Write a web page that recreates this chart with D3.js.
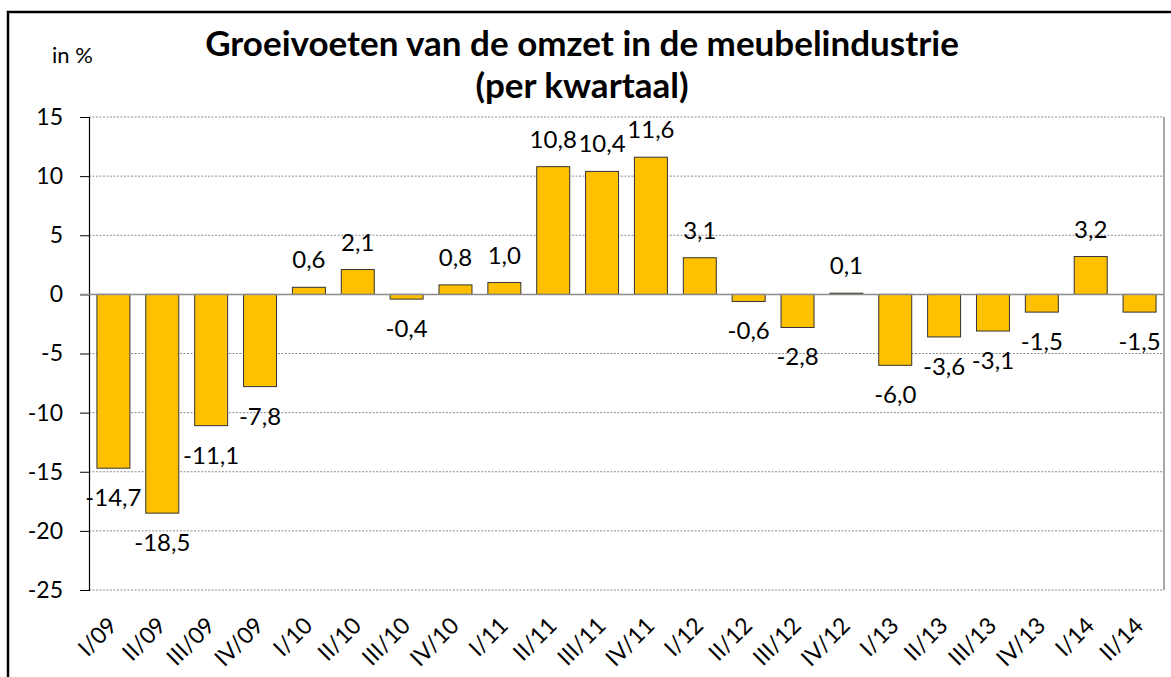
<!DOCTYPE html>
<html>
<head>
<meta charset="utf-8">
<script src="https://cdn.jsdelivr.net/npm/d3@7"></script>
<style>
  body { margin: 0; background: #fff; }
  text { font-family: Lato, "Open Sans", sans-serif; fill: #000; }
</style>
</head>
<body>
<svg id="chart" width="1171" height="677"></svg>
<script>
// quarters and growth rates (%)
const quarters = ['I/09', 'II/09', 'III/09', 'IV/09', 'I/10', 'II/10', 'III/10', 'IV/10',
  'I/11', 'II/11', 'III/11', 'IV/11', 'I/12', 'II/12', 'III/12', 'IV/12',
  'I/13', 'II/13', 'III/13', 'IV/13', 'I/14', 'II/14'];
const growth = [-14.7, -18.5, -11.1, -7.8, 0.6, 2.1, -0.4, 0.8,
  1.0, 10.8, 10.4, 11.6, 3.1, -0.6, -2.8, 0.1,
  -6.0, -3.6, -3.1, -1.5, 3.2, -1.5];
const yTicks = [-25, -20, -15, -10, -5, 0, 5, 10, 15];
const titleLines = ['Groeivoeten van de omzet in de meubelindustrie', '(per kwartaal)'];

const svg = d3.select('svg#chart');

// plot area
const plotLeft = 89, plotRight = 1164, plotTop = 117, plotBottom = 590;

// outer frame of the chart object
svg.append('rect')
  .attr('x', 8).attr('y', 12)
  .attr('width', 1200).attr('height', 700)
  .attr('fill', 'none')
  .attr('stroke', '#000')
  .attr('stroke-width', 2.5);

const x = d3.scaleBand()
  .domain(quarters)
  .range([plotLeft, plotRight])
  .paddingInner(0.325)
  .paddingOuter(0.1625);

const y = d3.scaleLinear()
  .domain([-25, 15])
  .range([plotBottom, plotTop]);

// dotted gridlines
svg.append('g')
  .selectAll('line')
  .data(yTicks.filter(d => d !== 0))
  .enter().append('line')
  .attr('x1', plotLeft).attr('x2', plotRight)
  .attr('y1', d => y(d)).attr('y2', d => y(d))
  .attr('stroke', '#8c8c8c')
  .attr('stroke-width', 1)
  .attr('stroke-dasharray', '2,1.5');

// right border of plot area
svg.append('line')
  .attr('x1', plotRight).attr('x2', plotRight)
  .attr('y1', plotTop).attr('y2', plotBottom)
  .attr('stroke', '#8c8c8c')
  .attr('stroke-width', 1.5);

// y axis
const yAxis = svg.append('g')
  .attr('transform', `translate(${plotLeft},0)`)
  .call(d3.axisLeft(y)
    .tickValues(yTicks)
    .tickFormat(d => String(d))
    .tickSize(9)
    .tickPadding(17));
yAxis.select('.domain').attr('stroke', '#000').attr('stroke-width', 1.2);
yAxis.selectAll('.tick line').attr('stroke', '#000');
yAxis.selectAll('.tick text')
  .style('font-family', 'Lato, sans-serif')
  .style('font-size', '23px')
  .attr('fill', '#000');

// bars
svg.append('g')
  .selectAll('rect')
  .data(growth)
  .enter().append('rect')
  .attr('x', (d, i) => x(quarters[i]))
  .attr('width', x.bandwidth())
  .attr('y', d => y(Math.max(0, d)))
  .attr('height', d => Math.abs(y(d) - y(0)))
  .attr('fill', '#FFC000')
  .attr('stroke', '#333')
  .attr('stroke-width', 1);

// zero line
svg.append('line')
  .attr('x1', plotLeft - 9).attr('x2', plotRight)
  .attr('y1', y(0)).attr('y2', y(0))
  .attr('stroke', '#8c8c8c')
  .attr('stroke-width', 1.5);

// data labels
svg.append('g')
  .selectAll('text')
  .data(growth)
  .enter().append('text')
  .attr('x', (d, i) => x(quarters[i]) + x.bandwidth() / 2)
  .attr('y', d => d >= 0 ? y(d) - 19 : y(d) + 38)
  .attr('text-anchor', 'middle')
  .style('font-size', '24px')
  .text(d => d.toFixed(1).replace('.', ','));

// category labels, slanted
svg.append('g')
  .selectAll('text')
  .data(quarters)
  .enter().append('text')
  .attr('transform', d => `translate(${x(d) + x.bandwidth() / 2 + 5},627) rotate(-45)`)
  .attr('text-anchor', 'end')
  .style('font-size', '23px')
  .text(d => d);

// unit
svg.append('text')
  .attr('x', 52).attr('y', 63)
  .style('font-size', '22px')
  .text('in %');

// title
svg.append('g')
  .selectAll('text')
  .data(titleLines)
  .enter().append('text')
  .attr('x', 582)
  .attr('y', (d, i) => 56 + i * 42)
  .attr('text-anchor', 'middle')
  .style('font-size', '35px')
  .style('font-weight', 'bold')
  .text(d => d);
</script>
</body>
</html>
